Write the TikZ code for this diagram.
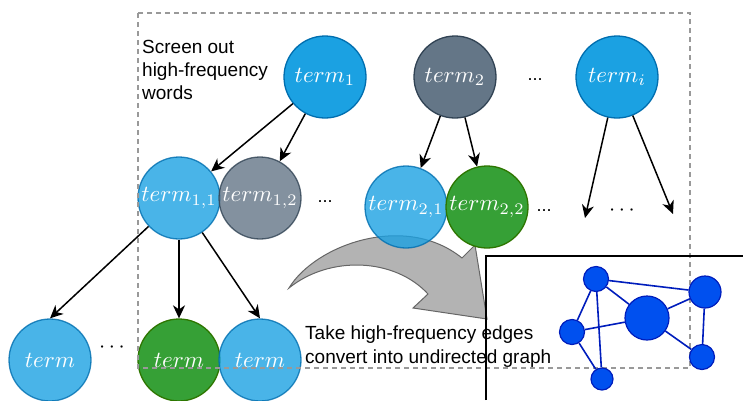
\documentclass[tikz,border=0pt]{standalone}
\usepackage[no-math]{fontspec}
\usepackage{graphicx}
\newfontfamily\arial{Liberation Sans}
\usetikzlibrary{arrows.meta}
\definecolor{tblue}{HTML}{1BA1E2}
\definecolor{tblueD}{HTML}{006EAF}
\definecolor{tgray}{HTML}{647687}
\definecolor{tgrayD}{HTML}{314354}
\definecolor{tgreen}{HTML}{36A036}
\definecolor{tgreenD}{HTML}{2D7600}
\definecolor{gblue}{HTML}{0050EF}
\definecolor{gblueD}{HTML}{001DBC}
\definecolor{dashgray}{HTML}{999999}
\definecolor{arrfill}{HTML}{B3B3B3}
\definecolor{arrline}{HTML}{666666}
\newcommand\tmlabel[1]{\scalebox{2.3}{$#1$}}
\newcommand\bigcdots{\scalebox{2.2}{$\cdots$}}
\begin{document}
\begin{tikzpicture}[x=1pt,y=-1pt,
  circ/.style={circle, minimum size=82pt, inner sep=0pt, line width=1.3pt, text=white},
  cblue/.style={circ, fill=tblue, draw=tblueD},
  cblueT/.style={cblue, fill opacity=0.8, draw opacity=0.8, text opacity=1},
  cgray/.style={circ, fill=tgray, draw=tgrayD},
  cgrayT/.style={cgray, fill opacity=0.8, draw opacity=0.8, text opacity=1},
  cgreen/.style={circ, fill=tgreen, draw=tgreenD},
  arr/.style={-{Stealth[length=13pt,width=12pt,inset=4pt]}, line width=1.5pt, black},
  dotsA/.style={font=\arial\fontsize{18}{20}\selectfont, inner sep=0pt},
  dotsB/.style={inner sep=0pt},
  txt/.style={font=\arial\fontsize{19}{23}\selectfont, align=left, inner sep=0pt, anchor=north west},
  txtb/.style={font=\arial\fontsize{19}{24}\selectfont, align=left, inner sep=0pt, anchor=north west},
  bigarrow/.style={fill=arrfill, draw=arrline, line width=1pt},
  dashbox/.style={draw=dashgray, line width=1.3pt, dash pattern=on 5pt off 4pt},
  gnode/.style={circle, fill=gblue, draw=gblueD, line width=1.2pt, inner sep=0pt},
  gedge/.style={draw=gblueD, line width=1.6pt}
]
\useasboundingbox (0,0) rectangle (743,400);

% big gray arrow
\path[bigarrow] (289,288) .. controls (315,245) and (405,212) .. (462,258)
  -- (475,245) -- (487,319) -- (413,308) -- (428,294)
  .. controls (395,258) and (330,255) .. cycle;

% top row
\node[cblue] (t1) at (325,77) {\tmlabel{term_1}};
\node[cgray] (t2) at (455,77) {\tmlabel{term_2}};
\node[cblue] (ti) at (617,77) {\tmlabel{term_i}};
\node[dotsA] (d1) at (535,80) {...};

% middle row
\node[cblueT] (t11) at (179,198) {\tmlabel{term_{1,1}}};
\node[cgrayT] (t12) at (260,198) {\tmlabel{term_{1,2}}};
\node[dotsA] (d2) at (325,202) {...};
\node[cblueT] (t21) at (406,207) {\tmlabel{term_{2,1}}};
\node[cgreen] (t22) at (487,207) {\tmlabel{term_{2,2}}};
\node[dotsA] (d3) at (544,211) {...};
\node[dotsB] (d4) at (622,211) {\bigcdots};

% bottom row
\node[cblueT] (b1) at (50,360) {\tmlabel{term}};
\node[dotsB] (d5) at (112,348) {\bigcdots};
\node[cgreen] (b2) at (179,360) {\tmlabel{term}};
\node[cblueT] (b3) at (260,360) {\tmlabel{term}};

% arrows
\coordinate (e1) at (585,218);
\coordinate (e2) at (673,214);
\draw[arr] (t1) -- (t11);
\draw[arr] (t1) -- (t12);
\draw[arr] (t2) -- (t21);
\draw[arr] (t2) -- (t22);
\draw[arr] (ti) -- (e1);
\draw[arr] (ti) -- (e2);
\draw[arr] (t11) -- (b1.north);
\draw[arr] (t11.south) -- (b2.north);
\draw[arr] (t11) -- (b3.north);

% texts
\node[txt] (screen) at (142,40.4) {Screen out\\high-frequency\\words};
\node[txtb] (take) at (305,325.4) {Take high-frequency edges\\convert into undirected graph};

% dashed frame
\draw[dashbox] (138,13) rectangle (690,368);

% black box
\coordinate (k1) at (486,400);
\coordinate (k2) at (486,256);
\coordinate (k3) at (743,256);
\draw[line width=1.5pt, black] (k1) -- (k2) -- (k3);

% graph
\node[gnode, minimum size=25pt] (gA) at (596,279) {};
\node[gnode, minimum size=32pt] (gB) at (705,292) {};
\node[gnode, minimum size=44pt] (gC) at (647,318) {};
\node[gnode, minimum size=25pt] (gD) at (572,332) {};
\node[gnode, minimum size=25pt] (gE) at (702,357) {};
\node[gnode, minimum size=22pt] (gF) at (602,379) {};
\draw[gedge] (gA) -- (gB);
\draw[gedge] (gA) -- (gC);
\draw[gedge] (gA) -- (gD);
\draw[gedge] (gA) -- (gF);
\draw[gedge] (gD) -- (gC);
\draw[gedge] (gD) -- (gF);
\draw[gedge] (gC) -- (gB);
\draw[gedge] (gB) -- (gE);
\draw[gedge] (gC) -- (gE);
\end{tikzpicture}
\end{document}
